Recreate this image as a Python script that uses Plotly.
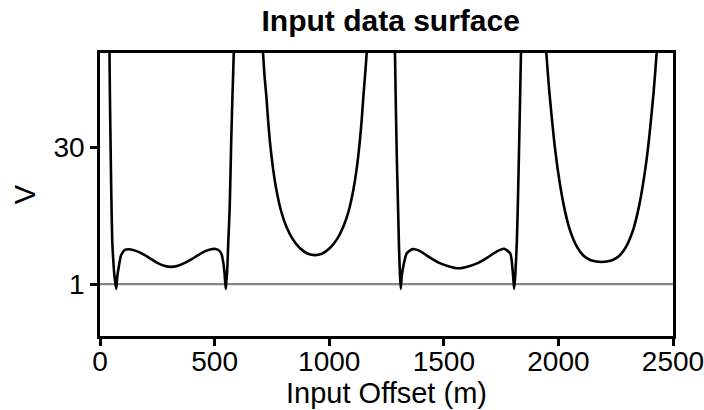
import plotly.graph_objects as go

# Offsets (m) and V readings, one list pair per lobe of the surface
offset_well1 = [40, 41.4, 43.5, 45.9, 49, 53.3, 58, 62, 67, 71, 75, 82, 92, 107, 126,
                160, 190, 220, 250, 280, 311, 340, 370, 400, 430, 460, 485, 505,
                520, 530, 538, 543, 548.5, 551, 554.4, 560, 566, 572.6, 578, 583.5, 585]
v_well1 = [56, 49.9, 40, 31.5, 21, 10.3, 6, 3.3, 1.2, 0, 2.5, 4.7, 7.1, 8.2, 8.4,
           8.0, 7.3, 6.4, 5.5, 4.9, 4.65, 4.9, 5.5, 6.3, 7.2, 8.0, 8.4, 8.45,
           8.1, 7.4, 5.5, 3.5, 0, 1.5, 3.3, 10.3, 17.4, 31.5, 41, 49.9, 56]

offset_bowl1 = [704, 711.5, 718, 726, 733, 740.8, 755, 770, 790, 813.8, 840, 872.6, 905,
                937.5, 970, 1002, 1035, 1061, 1085, 1105, 1120, 1134, 1142, 1149, 1156,
                1163.5, 1171]
v_bowl1 = [56, 49.9, 45, 40.7, 36, 31.5, 25.5, 20.9, 16.5, 13.1, 10.6, 8.6, 7.5,
           7.15, 7.5, 8.6, 10.6, 13.1, 16.5, 20.9, 25.5, 31.5, 36, 40.7, 45,
           49.9, 56]

offset_well2 = [1284, 1287, 1291, 1295, 1299, 1302, 1305, 1308, 1312, 1316, 1323, 1338,
                1364.5, 1400, 1440, 1480, 1520, 1564, 1610, 1650, 1690, 1730, 1763.5,
                1790, 1801.5, 1807, 1812, 1819, 1825, 1831, 1836.6, 1839]
v_well2 = [56, 49.9, 38, 28, 20, 14, 8, 4, 0, 2.5, 4.7, 7.5,
           8.42, 7.9, 6.6, 5.5, 4.8, 4.35, 4.8, 5.5, 6.6, 7.9, 8.5,
           7.5, 3.3, 0, 3, 10.3, 22, 36, 49.9, 56]

offset_bowl2 = [1940, 1947.5, 1960, 1980, 1998, 2023, 2050, 2081, 2110, 2139, 2165, 2188,
                2211, 2237, 2266, 2295, 2326, 2353, 2378, 2396, 2416, 2428.5, 2436]
v_bowl2 = [56, 49.9, 42, 32, 25, 17.8, 12.5, 8.9, 7.0, 6.1, 5.8, 5.7,
           5.8, 6.1, 7.0, 8.9, 12.5, 17.8, 25, 32, 42, 49.9, 56]

reference_v = 1
x_ticks = [0, 500, 1000, 1500, 2000, 2500]
y_ticks = [1, 30]

# Join the lobes into one trace, breaking the line where it leaves the top
xs, ys = [], []
for ox, oy in [(offset_well1, v_well1), (offset_bowl1, v_bowl1),
               (offset_well2, v_well2), (offset_bowl2, v_bowl2)]:
    xs += ox + [None]
    ys += oy + [None]

font = "Liberation Sans, Arial, Helvetica, sans-serif"

fig = go.Figure()
fig.add_trace(go.Scatter(
    x=[0, 2500], y=[reference_v, reference_v], mode="lines",
    line=dict(color="#858585", width=2.2), hoverinfo="skip", showlegend=False))
fig.add_trace(go.Scatter(
    x=xs, y=ys, mode="lines", connectgaps=False,
    line=dict(color="black", width=2.6, shape="spline", smoothing=0.6),
    showlegend=False))

axis_common = dict(
    showgrid=False, zeroline=False, showline=True, linecolor="black", linewidth=2.5,
    mirror=True, ticks="outside", ticklen=7, tickwidth=2.5, tickcolor="black",
    tickfont=dict(family=font, size=28, color="black"), automargin=False,
    ticklabeloverflow="allow",
)

fig.update_xaxes(range=[0, 2500], tickvals=x_ticks, ticktext=[str(t) for t in x_ticks],
                 ticklabelstandoff=-8,
                 title=dict(text="Input Offset (m)", font=dict(family=font, size=29, color="black"),
                            standoff=0),
                 **axis_common)
fig.update_yaxes(range=[-10, 50], tickvals=y_ticks, ticktext=[str(t) for t in y_ticks],
                 title=dict(text="V", font=dict(family=font, size=29, color="black"),
                            standoff=10),
                 **axis_common)

fig.update_layout(
    width=704, height=410,
    margin=dict(l=100, r=31, t=53, b=74, pad=0),
    paper_bgcolor="white", plot_bgcolor="white",
    title=dict(text="<b>Input data surface</b>", x=0.555, xanchor="center",
               y=0.95, yanchor="middle", yref="container",
               font=dict(family=font, size=30, color="black")),
)

fig.write_html("out.html")
